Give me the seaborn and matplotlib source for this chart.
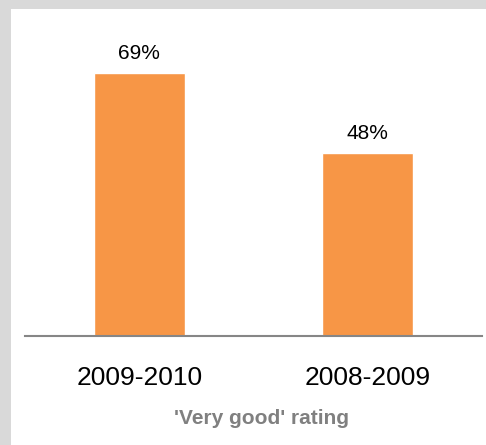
import matplotlib
matplotlib.use("Agg")
import matplotlib.pyplot as plt
import matplotlib.patches as mpatches
import seaborn as sns
import pandas as pd

# Share of "very good" ratings per season
seasons = ["2009-2010", "2008-2009"]
very_good_pct = [69, 48]
axis_title = "'Very good' rating"

df = pd.DataFrame({"season": seasons, "pct": very_good_pct})

sns.set_theme(style="white")
plt.rcParams["font.family"] = ["Liberation Sans", "DejaVu Sans"]

W, H = 486, 445
fig = plt.figure(figsize=(W / 100, H / 100), dpi=100)
fig.patch.set_facecolor("#d9d9d9")

# white panel inset from the top-left grey frame
fig.patches.append(mpatches.Rectangle((11 / W, 0), 1 - 11 / W, 1 - 9 / H,
                                      transform=fig.transFigure,
                                      facecolor="white", edgecolor="none",
                                      zorder=-10))

ax = fig.add_axes([25 / W, (H - 335.5) / H, (482 - 25) / W, (335.5 - 9) / H])
ax.set_facecolor("none")

sns.barplot(data=df, x="season", y="pct", color="#f79646", saturation=1,
            width=0.4, ax=ax, order=seasons)

ax.set_xlim(-0.5, 1.5)
ax.set_ylim(0, 326.5 / 3.8)

for c in ax.containers:
    ax.bar_label(c, labels=[f"{v}%" for v in very_good_pct], padding=7.5,
                 fontsize=15, color="black")

for side in ["left", "right", "top"]:
    ax.spines[side].set_visible(False)
ax.spines["bottom"].set_color("#868686")
ax.spines["bottom"].set_linewidth(1.5)
ax.set_yticks([])
ax.set_xlabel("")
ax.set_ylabel("")
ax.tick_params(axis="x", length=0, pad=22, labelsize=19, labelcolor="black")

fig.text(262 / W, 1 - 419 / H, axis_title, ha="center", va="center",
         fontsize=15, fontweight="bold", color="#808080")

fig.savefig("out.png", dpi=100, facecolor=fig.get_facecolor())
